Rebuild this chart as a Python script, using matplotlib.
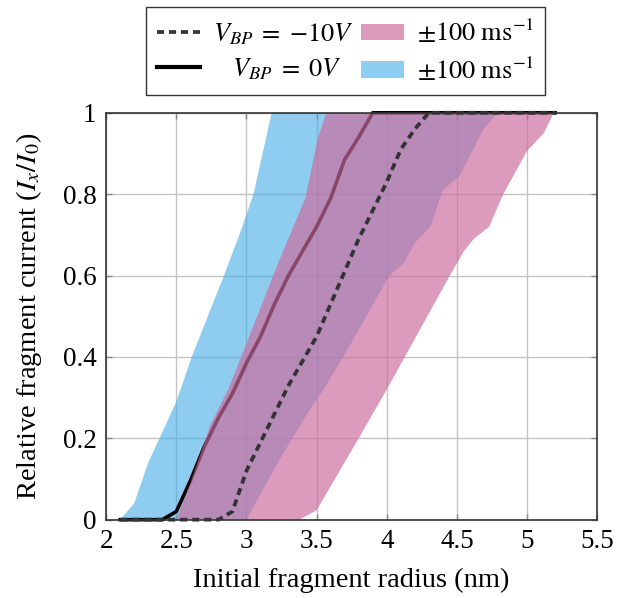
import numpy as np
import matplotlib
matplotlib.use("Agg")
import matplotlib.pyplot as plt
from matplotlib.patches import Patch
from matplotlib.lines import Line2D

plt.rcParams['font.family'] = ['Liberation Serif', 'DejaVu Serif']
plt.rcParams['mathtext.fontset'] = 'stix'

# mean curves, sampled every 0.1 nm
radius = [2.1, 2.2, 2.3, 2.4, 2.5, 2.6, 2.7, 2.8, 2.9, 3.0, 3.1, 3.2, 3.3, 3.4,
          3.5, 3.6, 3.7, 3.8, 3.9, 4.0, 4.1, 4.2, 4.3, 4.4, 4.5, 4.6, 4.7, 4.8,
          4.9, 5.0, 5.1, 5.2]
current_0v = [0, 0, 0, 0, 0.02, 0.095, 0.18, 0.25, 0.31, 0.385, 0.45, 0.53, 0.60,
              0.66, 0.72, 0.79, 0.885, 0.94, 1, 1, 1, 1, 1, 1, 1, 1, 1, 1, 1, 1, 1, 1]
current_m10v = [0, 0, 0, 0, 0, 0, 0, 0, 0.02, 0.12, 0.19, 0.26, 0.33, 0.39, 0.45,
                0.53, 0.61, 0.69, 0.76, 0.83, 0.91, 0.96, 1, 1, 1, 1, 1, 1, 1, 1, 1, 1]

# velocity spread envelopes (radius, current) for V_BP = 0V
blue_lo_x = [2.1, 2.2, 2.3, 2.5, 2.61, 2.84, 2.96, 3.05, 3.18]
blue_lo_y = [0, 0.04, 0.14, 0.29, 0.40, 0.60, 0.71, 0.80, 1.0]
blue_hi_x = [3.0, 3.24, 3.38, 3.48, 3.55, 3.69, 4.02, 4.12, 4.20, 4.31, 4.40, 4.52, 4.69, 4.79]
blue_hi_y = [0, 0.15, 0.23, 0.286, 0.32, 0.40, 0.60, 0.63, 0.68, 0.72, 0.81, 0.845, 0.96, 1.0]

# velocity spread envelopes for V_BP = -10V
pink_lo_x = [2.5, 2.6, 2.74, 2.87, 3.1, 3.19, 3.31, 3.42, 3.51, 3.57]
pink_lo_y = [0, 0.09, 0.23, 0.32, 0.52, 0.60, 0.70, 0.79, 0.94, 1.0]
pink_hi_x = [3.38, 3.5, 3.80, 4.0, 4.45, 4.55, 4.62, 4.73, 4.83, 5.0, 5.12, 5.19]
pink_hi_y = [0, 0.023, 0.20, 0.32, 0.60, 0.66, 0.69, 0.72, 0.80, 0.906, 0.95, 1.0]

x_ticks = [2, 2.5, 3, 3.5, 4, 4.5, 5, 5.5]
y_ticks = [0, 0.2, 0.4, 0.6, 0.8, 1]

fig = plt.figure(figsize=(6.28, 5.98), dpi=100)
ax = fig.add_axes([0.169, 0.131, 0.782, 0.6804])

blue = '#44ace6'
pink = '#cc6a9c'
pink_alpha = 0.67

ax.fill(blue_lo_x + blue_hi_x[::-1], blue_lo_y + blue_hi_y[::-1],
        color=blue, alpha=0.6, lw=0, zorder=2)
ax.plot(radius, current_0v, color='black', lw=2.6, zorder=3, clip_on=False)
ax.fill(pink_lo_x + pink_hi_x[::-1], pink_lo_y + pink_hi_y[::-1],
        color=pink, alpha=pink_alpha, lw=0, zorder=4)
ax.plot(radius, current_m10v, color='#333333', lw=2.7, dashes=(1.9, 1.3),
        zorder=5, clip_on=False)

ax.set_xlim(2, 5.5)
ax.set_ylim(0, 1)
ax.set_xticks(x_ticks)
ax.set_xticklabels(['2', '2.5', '3', '3.5', '4', '4.5', '5', '5.5'])
ax.set_yticks(y_ticks)
ax.set_yticklabels(['0', '0.2', '0.4', '0.6', '0.8', '1'])
ax.grid(True, color='#c4c4c4', lw=1.0, zorder=1)
ax.set_axisbelow(True)
ax.tick_params(direction='in', length=4, width=1, color='#888888',
               top=True, right=True, labelsize=19.5, pad=7)
for s in ax.spines.values():
    s.set_color('#333333')
    s.set_linewidth(1.2)
    s.set_zorder(6)

ax.set_xlabel('Initial fragment radius (nm)', fontsize=20.5, labelpad=10)
ax.set_ylabel('Relative fragment current ($I_x/I_0$)', fontsize=20.5, labelpad=13)

handles = [
    Line2D([], [], color='#333333', lw=2.7, dashes=(1.9, 1.3)),
    Line2D([], [], color='black', lw=3),
    Patch(facecolor=pink, alpha=pink_alpha, lw=0),
    Patch(facecolor=blue, alpha=0.6, lw=0),
]
labels = [r'$V_{BP}\;=\;{-}10V$', r'$\ \ \ V_{BP}\;=\;0V$',
          r'$\pm100\ \mathrm{ms}^{-1}$', r'$\pm100\ \mathrm{ms}^{-1}$']
leg = ax.legend(handles, labels, ncol=2, loc='lower center',
                bbox_to_anchor=(0.488, 1.012), fontsize=19, frameon=True,
                fancybox=False, edgecolor='black', handlelength=1.6,
                handleheight=0.6, columnspacing=0.3, handletextpad=0.5,
                labelspacing=0.35, borderpad=0.42)
leg.get_frame().set_linewidth(1.0)

fig.savefig('out.png', dpi=100)
